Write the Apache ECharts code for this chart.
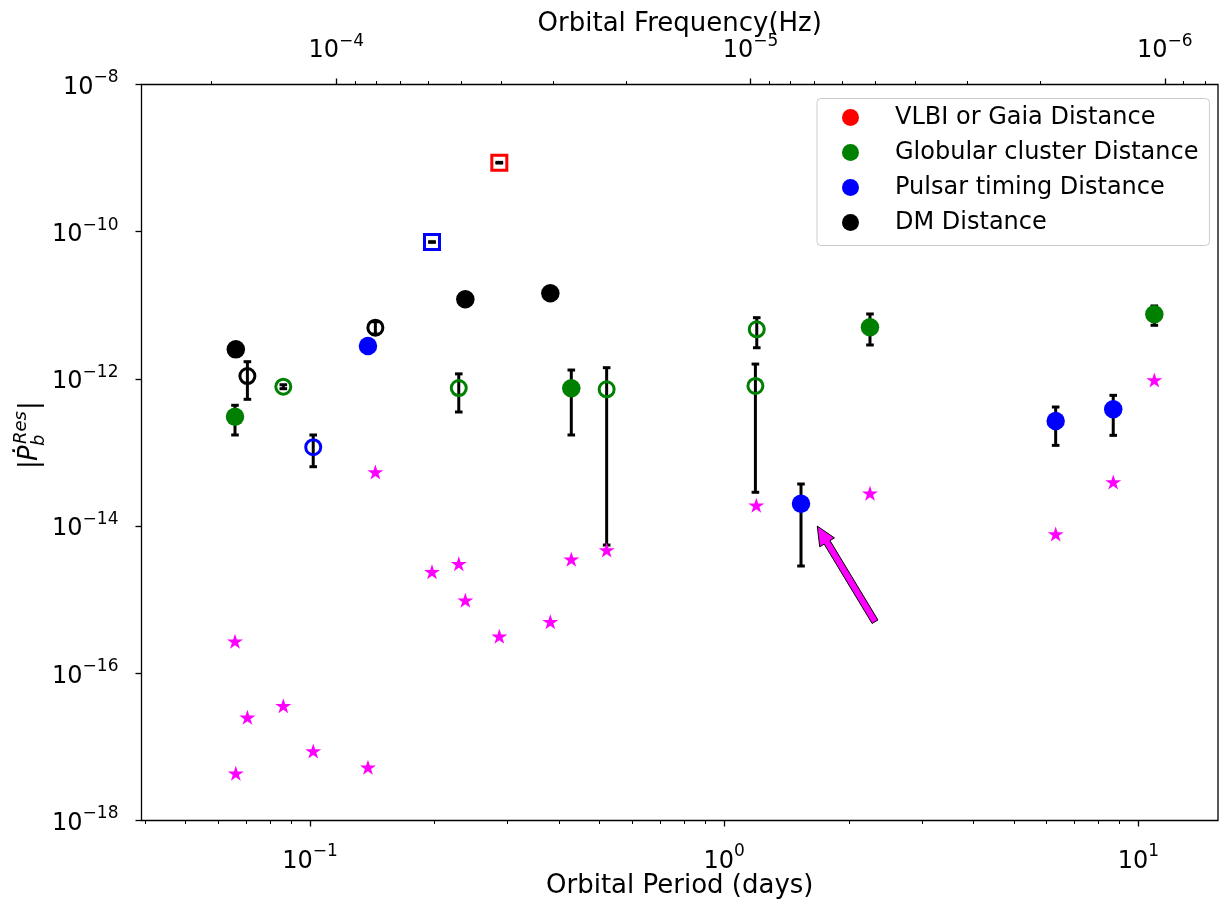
<!DOCTYPE html>
<html><head><meta charset="utf-8">
<script src="https://cdn.jsdelivr.net/npm/echarts@6/dist/echarts.min.js"></script>
<style>html,body{margin:0;padding:0;background:#fff}#c{width:1220px;height:899px}</style>
</head><body><div id="c"></div>
<script>
// ---------------- data: [period (days), |Pb_dot_res|, errLow, errHigh] ----------------
const vlbiSquare   = [[0.2864, 8.66e-10, 8.57e-10, 8.75e-10]];
const gcFilled     = [[0.0659, 3.06e-13, 1.73e-13, 4.38e-13],
                      [0.4273, 7.45e-13, 1.73e-13, 1.32e-12],
                      [2.248,  5.03e-12, 2.89e-12, 7.62e-12],
                      [10.92,  7.55e-12, 5.35e-12, 9.80e-12]];
const gcOpen       = [[0.0862, 7.83e-13, 7.36e-13, 8.33e-13],
                      [0.2286, 7.51e-13, 3.55e-13, 1.17e-12],
                      [0.5201, 7.23e-13, 5.53e-15, 1.42e-12],
                      [1.198,  4.72e-12, 2.65e-12, 6.79e-12],
                      [1.189,  8.02e-13, 2.88e-14, 1.59e-12]];
const ptFilled     = [[0.138,  2.80e-12, null, null],
                      [1.532,  2.01e-14, 2.87e-15, 3.73e-14],
                      [6.31,   2.68e-13, 1.25e-13, 4.15e-13],
                      [8.69,   3.86e-13, 1.71e-13, 5.98e-13]];
const ptOpen       = [[0.1018, 1.18e-13, 6.41e-14, 1.73e-13]];
const ptSquare     = [[0.197,  7.24e-11, 7.17e-11, 7.31e-11]];
const dmFilled     = [[0.0662, 2.52e-12, null, null],
                      [0.2371, 1.208e-11, null, null],
                      [0.3803, 1.455e-11, null, null]];
const dmOpen       = [[0.0706, 1.094e-12, 5.28e-13, 1.714e-12],
                      [0.1438, 4.97e-12, 4.07e-12, 5.98e-12]];
// predicted values (magenta stars)
const predicted    = [[0.0659, 2.72e-16], [0.0706, 2.52e-17], [0.0862, 3.63e-17], [0.1018, 8.79e-18],
                      [0.0662, 4.38e-18], [0.138, 5.28e-18], [0.1438, 5.43e-14], [0.197, 2.40e-15],
                      [0.2286, 3.08e-15], [0.2371, 9.82e-16], [0.2864, 3.18e-16], [0.3803, 5.02e-16],
                      [0.4273, 3.54e-15], [0.5201, 4.73e-15], [1.195, 1.92e-14], [2.248, 2.79e-14],
                      [6.31, 7.82e-15], [8.69, 3.97e-14], [10.92, 9.66e-13]];
// annotation arrow: [tailPeriod, tailValue, tipPeriod, tipValue]
const arrowFromTo  = [[2.312, 5.02e-16, 1.677, 1.0e-14]];
// axes
const periodMin = 0.03919, periodMax = 15.557;
const secondsPerDay = 86400;
const freqMin = 1 / (secondsPerDay * periodMax), freqMax = 1 / (secondsPerDay * periodMin);
const periodMajorTicks = [0.1, 1, 10];
const periodMinorTicks = [0.04,0.05,0.06,0.07,0.08,0.09,0.2,0.3,0.4,0.5,0.6,0.7,0.8,0.9,2,3,4,5,6,7,8,9];
const freqMajorTicks = [1e-4, 1e-5, 1e-6];
const freqMinorTicks = [8e-7,9e-7,2e-6,3e-6,4e-6,5e-6,6e-6,7e-6,8e-6,9e-6,2e-5,3e-5,4e-5,5e-5,6e-5,7e-5,8e-5,9e-5,2e-4];
const yMajorTicks = [1e-18, 1e-16, 1e-14, 1e-12, 1e-10, 1e-8];
const legendNames = ['VLBI or Gaia Distance', 'Globular cluster Distance', 'Pulsar timing Distance', 'DM Distance'];

// ---------------- styles ----------------
const F = 'DejaVu Sans';
const RED = '#ff0000', GREEN = '#008000', BLUE = '#0000ff', BLACK = '#000000', MAG = '#ff00ff';
const STAR = 'path://M50,0 L61.23,34.55 L97.55,34.55 L68.16,55.9 L79.39,90.45 L50,69.1 L20.61,90.45 L31.84,55.9 L2.45,34.55 L38.77,34.55 Z';
const rich = {
  b: {fontSize: 24, lineHeight: 30, verticalAlign: 'bottom', fontFamily: F, color: '#000'},
  s: {fontSize: 17, lineHeight: 17, verticalAlign: 'top', fontFamily: F, color: '#000'}
};
function powLabel(v) {
  const e = Math.round(Math.log10(v));
  return '{b|10}{s|' + (e < 0 ? '\u2212' : '') + Math.abs(e) + '}';
}
const tickLine = {color: '#000', width: 1.3};
function filledPt(d, c) { return {value: [d[0], d[1]], symbol: 'circle', symbolSize: 18.5, itemStyle: {color: c, opacity: 1}}; }
function openPt(d, c, sym) { return {value: [d[0], d[1]], symbol: sym, symbolSize: 15,
  itemStyle: {color: 'rgba(0,0,0,0)', borderColor: c, borderWidth: 3, opacity: 1}}; }

const errorBars = [].concat(vlbiSquare, gcFilled, gcOpen, ptFilled, ptOpen, ptSquare, dmFilled, dmOpen)
  .filter(d => d[2] != null).map(d => [d[0], d[2], d[3]]);

function renderErr(params, api) {
  const x = api.value(0);
  const pHi = api.coord([x, api.value(2)]);
  const pLo = api.coord([x, api.value(1)]);
  const cw = 3.8, st = {stroke: '#000', lineWidth: 3};
  return {type: 'group', children: [
    {type: 'line', shape: {x1: pHi[0], y1: pHi[1], x2: pLo[0], y2: pLo[1]}, style: st},
    {type: 'line', shape: {x1: pHi[0] - cw, y1: pHi[1], x2: pHi[0] + cw, y2: pHi[1]}, style: st},
    {type: 'line', shape: {x1: pLo[0] - cw, y1: pLo[1], x2: pLo[0] + cw, y2: pLo[1]}, style: st}
  ]};
}
function renderArrow(params, api) {
  const t = api.coord([api.value(0), api.value(1)]);
  const h = api.coord([api.value(2), api.value(3)]);
  const dx = h[0] - t[0], dy = h[1] - t[1], L = Math.hypot(dx, dy);
  const ux = dx / L, uy = dy / L, nx = -uy, ny = ux;
  const sw = 3.4, hw = 8.6, hl = 19;
  const bx = h[0] - ux * hl, by = h[1] - uy * hl;
  const pts = [
    [t[0] + nx * sw, t[1] + ny * sw], [bx + nx * sw, by + ny * sw], [bx + nx * hw, by + ny * hw],
    [h[0], h[1]], [bx - nx * hw, by - ny * hw], [bx - nx * sw, by - ny * sw], [t[0] - nx * sw, t[1] - ny * sw]
  ];
  return {type: 'polygon', shape: {points: pts}, style: {fill: MAG, stroke: '#000', lineWidth: 1}};
}

const chart = echarts.init(document.getElementById('c'), null, {renderer: 'canvas'});
chart.setOption({
  animation: false,
  backgroundColor: '#ffffff',
  textStyle: {fontFamily: F},
  grid: {left: 141.5, top: 84.5, width: 1076.5, height: 736, show: true, borderColor: '#000', borderWidth: 1.3,
         backgroundColor: 'transparent', containLabel: false, outerBoundsMode: 'none'},
  legend: {
    data: legendNames, left: 817, top: 98.5, orient: 'vertical', icon: 'circle',
    itemWidth: 17, itemHeight: 17, itemGap: 11, padding: [7, 11, 11, 25],
    backgroundColor: 'rgba(255,255,255,0.8)', borderColor: '#cccccc', borderWidth: 1, borderRadius: 4,
    textStyle: {fontFamily: F, fontSize: 24, color: '#000', lineHeight: 24, padding: [0, 0, 0, 31]},
    selectedMode: false
  },
  xAxis: [
    {type: 'log', logBase: 10, min: periodMin, max: periodMax, position: 'bottom',
     axisLine: {show: false}, splitLine: {show: false},
     axisTick: {show: true, length: 6, lineStyle: tickLine, customValues: periodMajorTicks},
     axisLabel: {show: true, margin: 23, formatter: powLabel, rich: rich, customValues: periodMajorTicks},
     name: 'Orbital Period (days)', nameLocation: 'middle', nameGap: 53, nameMoveOverlap: false,
     nameTextStyle: {fontFamily: F, fontSize: 26, color: '#000'}},
    {type: 'log', logBase: 10, min: freqMin, max: freqMax, inverse: true, position: 'top',
     axisLine: {show: false}, splitLine: {show: false},
     axisTick: {show: true, length: 6, lineStyle: tickLine, customValues: freqMajorTicks},
     axisLabel: {show: true, margin: 21.5, formatter: powLabel, rich: rich, customValues: freqMajorTicks},
     name: 'Orbital Frequency(Hz)', nameLocation: 'middle', nameGap: 47.5, nameMoveOverlap: false,
     nameTextStyle: {fontFamily: F, fontSize: 26, color: '#000'}},
    {type: 'log', logBase: 10, min: periodMin, max: periodMax, position: 'bottom',
     axisLine: {show: false}, splitLine: {show: false}, axisLabel: {show: false},
     axisTick: {show: true, length: 3.5, lineStyle: {color: '#000', width: 1}, customValues: periodMinorTicks}},
    {type: 'log', logBase: 10, min: freqMin, max: freqMax, inverse: true, position: 'top',
     axisLine: {show: false}, splitLine: {show: false}, axisLabel: {show: false},
     axisTick: {show: true, length: 3.5, lineStyle: {color: '#000', width: 1}, customValues: freqMinorTicks}}
  ],
  yAxis: [{type: 'log', logBase: 10, min: 1e-18, max: 1e-8,
    axisLine: {show: false}, splitLine: {show: false},
    axisTick: {show: true, length: 6, lineStyle: tickLine, customValues: yMajorTicks},
    axisLabel: {show: true, margin: 23, formatter: powLabel, rich: rich, customValues: yMajorTicks}}],
  series: [
    {type: 'custom', name: 'errorbars', xAxisIndex: 0, yAxisIndex: 0, z: 2, silent: true,
     data: errorBars, encode: {x: 0, y: [1, 2]}, renderItem: renderErr},
    {type: 'scatter', name: legendNames[0], xAxisIndex: 0, yAxisIndex: 0, z: 3, silent: true,
     itemStyle: {color: RED, opacity: 1},
     data: vlbiSquare.map(d => openPt(d, RED, 'rect'))},
    {type: 'scatter', name: legendNames[1], xAxisIndex: 0, yAxisIndex: 0, z: 3, silent: true,
     itemStyle: {color: GREEN, opacity: 1},
     data: gcFilled.map(d => filledPt(d, GREEN)).concat(gcOpen.map(d => openPt(d, GREEN, 'circle')))},
    {type: 'scatter', name: legendNames[2], xAxisIndex: 0, yAxisIndex: 0, z: 3, silent: true,
     itemStyle: {color: BLUE, opacity: 1},
     data: ptFilled.map(d => filledPt(d, BLUE)).concat(ptOpen.map(d => openPt(d, BLUE, 'circle')),
                                                       ptSquare.map(d => openPt(d, BLUE, 'rect')))},
    {type: 'scatter', name: legendNames[3], xAxisIndex: 0, yAxisIndex: 0, z: 3, silent: true,
     itemStyle: {color: BLACK, opacity: 1},
     data: dmFilled.map(d => filledPt(d, BLACK)).concat(dmOpen.map(d => openPt(d, BLACK, 'circle')))},
    {type: 'scatter', name: 'Predicted', xAxisIndex: 0, yAxisIndex: 0, z: 4, silent: true,
     symbol: STAR, symbolSize: [16, 15], itemStyle: {color: MAG, opacity: 1}, data: predicted},
    {type: 'custom', name: 'arrow', xAxisIndex: 0, yAxisIndex: 0, z: 5, silent: true,
     data: arrowFromTo, encode: {x: [0, 2], y: [1, 3]}, renderItem: renderArrow}
  ],
  graphic: [{
    type: 'group', x: 30, y: 432, rotation: Math.PI / 2, silent: true,
    children: [
      {type: 'text', x: -37, y: 0, style: {text: '|', fontFamily: F, fontSize: 26, fill: '#000', verticalAlign: 'middle', align: 'left'}},
      {type: 'text', x: -29, y: 0, style: {text: '\u1E56', fontFamily: F, fontStyle: 'italic', fontSize: 26, fill: '#000', verticalAlign: 'middle', align: 'left'}},
      {type: 'text', x: -12, y: -9, style: {text: 'Res', fontFamily: F, fontStyle: 'italic', fontSize: 18, fill: '#000', verticalAlign: 'middle', align: 'left'}},
      {type: 'text', x: -14, y: 9, style: {text: 'b', fontFamily: F, fontStyle: 'italic', fontSize: 18, fill: '#000', verticalAlign: 'middle', align: 'left'}},
      {type: 'text', x: 22, y: 0, style: {text: '|', fontFamily: F, fontSize: 26, fill: '#000', verticalAlign: 'middle', align: 'left'}}
    ]
  }]
});
</script>
</body></html>
